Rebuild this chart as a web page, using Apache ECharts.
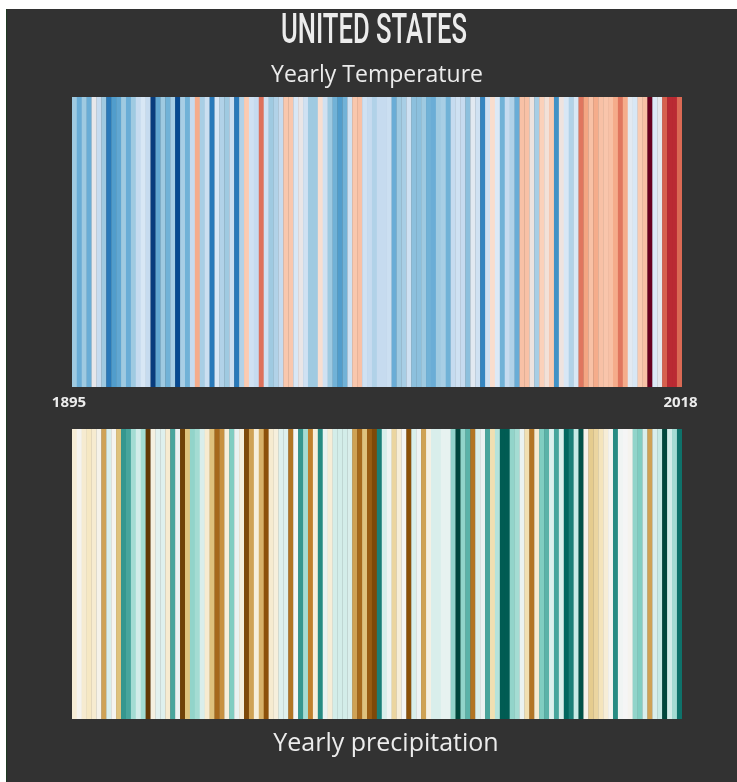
<!DOCTYPE html>
<html>
<head>
<meta charset="utf-8">
<style>
  html, body { margin: 0; padding: 0; background: #ffffff; }
  #chart { width: 737px; height: 782px; }
</style>
<script src="https://cdn.jsdelivr.net/npm/echarts@6/dist/echarts.min.js"></script>
</head>
<body>
<div id="chart"></div>
<script>
// ---- Data ----
const years = [];
for (let y = 1895; y <= 2018; y++) years.push(String(y));

// Relative yearly temperature anomaly (-1 coldest .. +1 warmest)
const tempAnomaly = [
  -0.33,-0.47,-0.33,-0.47,-0.03,-0.2,-0.33,-0.7,-0.55,-0.5,
  -0.33,-0.47,-0.33,-0.2,-0.1,-0.2,-0.95,-0.5,-0.33,-0.45,
  -0.3,-0.9,-0.3,-0.45,-0.2,0.3,-0.3,-0.17,-0.7,-0.1,
  -0.27,-0.33,-0.17,-0.7,-0.27,0.15,-0.15,-0.2,0.5,-0.15,
  -0.33,-0.27,-0.2,0.17,0.17,-0.1,-0.02,-0.15,-0.33,-0.33,
  0.04,-0.15,-0.33,-0.45,-0.55,-0.45,-0.15,0.17,0.2,-0.15,
  -0.2,-0.27,-0.2,-0.2,-0.17,-0.47,-0.33,-0.3,-0.15,-0.38,
  -0.38,-0.33,-0.45,-0.47,-0.33,-0.3,-0.45,-0.2,-0.15,-0.2,
  -0.38,-0.05,-0.15,-0.65,-0.15,0.05,-0.08,-0.45,-0.2,-0.27,
  -0.47,0.2,0.2,0.0,-0.3,0.12,0.02,0.15,-0.6,0.0,
  -0.1,-0.27,-0.1,0.47,0.33,0.2,0.3,0.2,0.18,0.2,
  0.3,0.47,0.3,-0.05,-0.1,0.15,0.2,1.0,-0.08,-0.04,
  0.6,0.8,0.8,0.55
];

// Relative yearly precipitation anomaly (-1 driest .. +1 wettest)
const precipAnomaly = [
  -0.12,-0.03,-0.15,-0.2,-0.15,-0.05,-0.5,0.12,-0.02,-0.4,
  0.6,0.55,0.3,0.15,0.3,-0.95,-0.08,0.08,0.1,-0.15,
  0.55,0.05,-0.9,-0.4,0.35,0.3,0.12,-0.15,-0.4,-0.7,
  -0.55,-0.1,0.4,0.05,-0.1,-0.85,-0.5,-0.1,-0.45,-0.8,
  -0.15,-0.1,0.1,0.1,-0.65,0.0,0.6,0.3,-0.6,-0.1,
  0.65,0.05,-0.12,0.15,0.15,0.15,0.12,-0.5,-0.7,-0.4,
  -0.75,-0.85,0.7,0.12,0.02,-0.3,-0.12,0.0,-0.8,0.12,
  0.03,-0.5,-0.07,0.12,0.12,0.06,0.06,0.35,0.95,0.35,
  0.5,-0.65,0.12,0.05,0.55,-0.25,0.25,0.85,0.85,0.35,
  0.3,0.05,-0.25,-0.65,-0.15,0.4,0.5,0.1,0.55,0.12,
  0.8,0.7,0.2,0.9,-0.05,-0.35,-0.3,-0.22,-0.12,-0.02,
  0.65,0.02,0.0,-0.03,0.35,0.4,0.12,-0.5,0.12,0.2,
  0.95,0.15,0.3,0.75
];

const tickLabels = ['1895', '2018'];
const titleText = 'UNITED STATES';
const topLabel = 'Yearly Temperature';
const bottomLabel = 'Yearly precipitation';

// ---- Styling ----
const tempColors = ['#08306b','#08519c','#2171b5','#4292c6','#6baed6','#9ecae1','#c6dbef','#deebf7',
                    '#fddbc7','#f8c1a6','#f4a582','#e0775f','#d6604d','#c13b3b','#b2182b','#67001f'];
const precipColors = ['#543005','#8c510a','#bf812d','#dfc27d','#f6e8c3','#f5f5f5',
                      '#c7eae5','#80cdc1','#35978f','#01665e','#003c30'];
const bg = '#323232';
const textColor = '#ececec';

const chart = echarts.init(document.getElementById('chart'), null, { renderer: 'canvas' });

function xAxisFor(gridIndex, showLabels) {
  return {
    type: 'category',
    gridIndex: gridIndex,
    data: years,
    boundaryGap: true,
    axisLine: { show: false },
    axisTick: { show: false },
    splitLine: { show: false },
    axisLabel: {
      show: showLabels,
      interval: 0,
      color: textColor,
      fontFamily: 'Open Sans',
      fontWeight: 'bold',
      fontSize: 15,
      margin: 8,
      formatter: v => {
        if (v === tickLabels[0]) return '{first|' + v + '}';
        if (v === tickLabels[1]) return '{last|' + v + '}';
        return '';
      },
      rich: {
        first: { color: textColor, fontFamily: 'Open Sans', fontWeight: 'bold', fontSize: 15, padding: [0, 11, 0, 0] },
        last: { color: textColor, fontFamily: 'Open Sans', fontWeight: 'bold', fontSize: 15, padding: [0, 0, 0, 2] }
      }
    }
  };
}
function yAxisFor(gridIndex) {
  return {
    type: 'value', gridIndex: gridIndex, min: 0, max: 1, show: false,
    splitLine: { show: false }
  };
}

const option = {
  backgroundColor: bg,
  animation: false,
  grid: [
    { left: 72, top: 97, width: 610, height: 290 },
    { left: 72, top: 429, width: 610, height: 290 }
  ],
  xAxis: [xAxisFor(0, true), xAxisFor(1, false)],
  yAxis: [yAxisFor(0), yAxisFor(1)],
  visualMap: [
    { type: 'continuous', show: false, seriesIndex: 0, dimension: 2, min: -1, max: 1,
      inRange: { color: tempColors } },
    { type: 'continuous', show: false, seriesIndex: 1, dimension: 2, min: -1, max: 1,
      inRange: { color: precipColors } }
  ],
  series: [
    {
      name: 'Temperature', type: 'bar', xAxisIndex: 0, yAxisIndex: 0,
      barWidth: '106%',
      data: years.map((y, i) => [y, 1, tempAnomaly[i]]),
      encode: { x: 0, y: 1 }
    },
    {
      name: 'Precipitation', type: 'bar', xAxisIndex: 1, yAxisIndex: 1,
      barWidth: '106%',
      data: years.map((y, i) => [y, 1, precipAnomaly[i]]),
      encode: { x: 0, y: 1 }
    }
  ],
  graphic: [
    { type: 'rect', left: 0, top: 0, shape: { width: 737, height: 9 }, style: { fill: '#ffffff' }, z: 10 },
    { type: 'rect', left: 0, top: 0, shape: { width: 6, height: 782 }, style: { fill: '#ffffff' }, z: 10 },
    { type: 'rect', left: 6, top: 9, shape: { width: 1, height: 773 }, style: { fill: '#1f3a22' }, z: 10 },
    {
      type: 'text', x: 374, y: 32, scaleX: 0.61, z: 10,
      style: {
        text: titleText, fill: textColor, font: '500 42px Roboto',
        textAlign: 'center', textVerticalAlign: 'middle'
      }
    },
    {
      type: 'text', x: 377, y: 75, z: 10,
      style: {
        text: topLabel, fill: textColor, font: 'normal 23px "Open Sans"',
        textAlign: 'center', textVerticalAlign: 'middle'
      }
    },
    {
      type: 'text', x: 386, y: 744, z: 10,
      style: {
        text: bottomLabel, fill: textColor, font: 'normal 25px "Open Sans"',
        textAlign: 'center', textVerticalAlign: 'middle'
      }
    }
  ]
};
chart.setOption(option);
</script>
</body>
</html>
